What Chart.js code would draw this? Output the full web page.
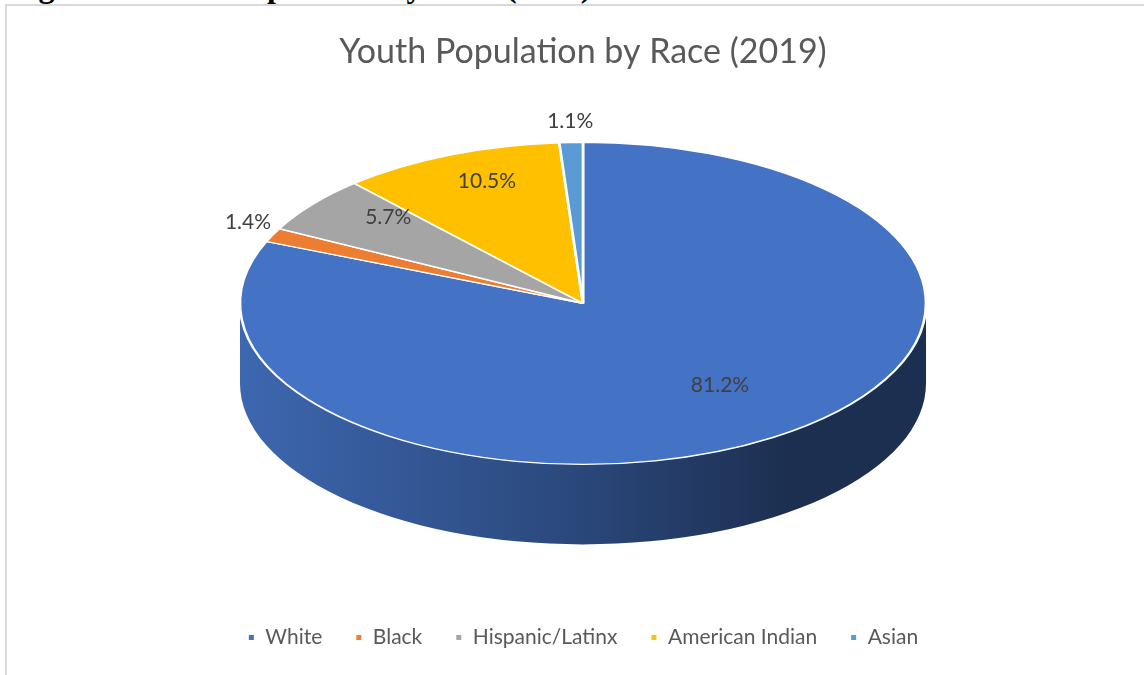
<!DOCTYPE html>
<html>
<head>
<meta charset="utf-8">
<script src="https://cdn.jsdelivr.net/npm/chart.js@4.4.0/dist/chart.umd.min.js"></script>
<style>
  html, body { margin: 0; padding: 0; width: 1144px; height: 675px; overflow: hidden; background: #fff; }
  #caption { position: absolute; left: 10px; top: -30px; font: bold 32px "Liberation Serif", serif; line-height: 32px; white-space: nowrap; color: #000; }
  #frame { position: absolute; left: 5px; top: 4px; width: 1156px; height: 684px; border: 2px solid #d9d9d9; box-sizing: border-box; }
</style>
</head>
<body>
<div id="caption">Figure 3: Youth Population by Race (2019)</div>
<div id="frame"><canvas id="raceChart"></canvas></div>
<script>
// Data
const categories = ["White", "Black", "Hispanic/Latinx", "American Indian", "Asian"];
const shares = [81.2, 1.4, 5.7, 10.5, 1.1];
const sliceColors = ["#4472c4", "#ed7d31", "#a5a5a5", "#ffc000", "#5b9bd5"];
const chartTitle = "Youth Population by Race (2019)";

// 3D look
const PIE_RX = 343;
const PIE_RY = 161;
const PIE_DEPTH = 80;

function shade(hex, k) {
  const n = parseInt(hex.slice(1), 16);
  const r = Math.round(((n >> 16) & 255) * k);
  const g = Math.round(((n >> 8) & 255) * k);
  const b = Math.round((n & 255) * k);
  return `rgb(${r},${g},${b})`;
}

function pieFrame(chart) {
  const meta = chart.getDatasetMeta(0);
  const arc = meta.data[0];
  const area = chart.chartArea;
  return {
    meta: meta,
    arc: arc,
    R: arc.outerRadius,
    cx: arc.x,
    cy: (area.top + area.bottom) / 2 - PIE_DEPTH / 2 + 5,
  };
}

const tiltPlugin = {
  id: "tilt",
  beforeDatasetsDraw(chart) {
    const ctx = chart.ctx;
    const f = pieFrame(chart);

    // side wall, only the front half (canvas angles 0..PI) shows
    f.meta.data.forEach((el, i) => {
      const a = Math.max(el.startAngle, 0);
      const b = Math.min(el.endAngle, Math.PI);
      if (a >= b) return;
      const grad = ctx.createLinearGradient(f.cx - PIE_RX, 0, f.cx + PIE_RX, 0);
      grad.addColorStop(0, shade(sliceColors[i], 0.9));
      grad.addColorStop(0.5, shade(sliceColors[i], 0.62));
      grad.addColorStop(0.8, shade(sliceColors[i], 0.41));
      grad.addColorStop(1, shade(sliceColors[i], 0.41));
      ctx.beginPath();
      ctx.ellipse(f.cx, f.cy, PIE_RX, PIE_RY, 0, a, b);
      ctx.ellipse(f.cx, f.cy + PIE_DEPTH, PIE_RX, PIE_RY, 0, b, a, true);
      ctx.closePath();
      ctx.fillStyle = grad;
      ctx.fill();
    });

    // squash the round pie into the top face
    ctx.save();
    ctx.translate(f.cx, f.cy);
    ctx.scale(PIE_RX / f.R, PIE_RY / f.R);
    ctx.translate(-f.arc.x, -f.arc.y);
  },
  afterDatasetsDraw(chart) {
    const ctx = chart.ctx;
    ctx.restore();
    const f = pieFrame(chart);

    ctx.save();
    ctx.font = '21px Lato';
    ctx.fillStyle = "#404040";
    ctx.textAlign = "center";
    ctx.textBaseline = "middle";
    f.meta.data.forEach((el, i) => {
      const mid = (el.startAngle + el.endAngle) / 2;
      const c = Math.cos(mid);
      const s = Math.sin(mid);
      const text = shares[i].toFixed(1) + "%";
      let x, y;
      if (shares[i] < 2) {
        // outside the rim, near edge of the text a few px away
        const halfW = ctx.measureText(text).width / 2;
        x = f.cx + PIE_RX * c + (halfW + 4) * c;
        y = f.cy + PIE_RY * s + (11 + 4) * s - 6;
      } else {
        x = f.cx + PIE_RX * 0.72 * c;
        y = f.cy + PIE_RY * 0.72 * s - 15;
      }
      ctx.fillText(text, x, y);
    });
    ctx.restore();
  },
};

new Chart(document.getElementById("raceChart"), {
  type: "pie",
  data: {
    labels: categories,
    datasets: [
      {
        data: shares,
        backgroundColor: sliceColors,
        borderColor: "#ffffff",
        borderWidth: 2,
        clip: false,
      },
    ],
  },
  options: {
    responsive: true,
    maintainAspectRatio: false,
    animation: false,
    layout: {
      padding: { top: 26, bottom: 28 },
    },
    plugins: {
      title: {
        display: true,
        text: chartTitle,
        color: "#595959",
        font: { family: "Lato", size: 34, weight: "normal" },
        padding: { top: 0, bottom: 10 },
      },
      legend: {
        position: "bottom",
        labels: {
          usePointStyle: true,
          pointStyle: "rect",
          boxWidth: 7,
          boxHeight: 7,
          pointStyleWidth: 7,
          padding: 33,
          color: "#595959",
          font: { family: "Lato", size: 21 },
        },
      },
      tooltip: { enabled: false },
    },
  },
  plugins: [tiltPlugin],
});
</script>
</body>
</html>
